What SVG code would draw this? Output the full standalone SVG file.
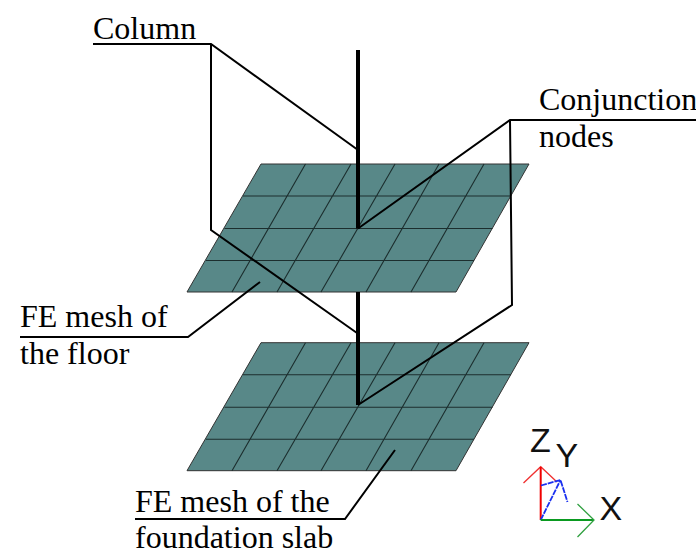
<svg xmlns="http://www.w3.org/2000/svg" width="696" height="550" viewBox="0 0 696 550">
<style>
.bg{fill:#fff}
.plate{fill:#588888;stroke:#333;stroke-width:1}
.grid{fill:none;stroke:#1c2e2e;stroke-width:1.1}
.col{fill:none;stroke:#000;stroke-width:4}
.lead{fill:none;stroke:#000;stroke-width:2}
.t{font-family:"Liberation Serif","Times New Roman",serif;font-size:32px;fill:#000}
.a{font-family:"Liberation Sans",Arial,sans-serif;font-size:34px;fill:#111}
.ax{fill:none;stroke-width:1.3}
</style>
<defs>
<g id="mesh">
<polygon class="plate" points="261,0 529,0 456,128 187,128"/>
<path class="grid" d="M243,32H511M224.500,64.500H492.500M206,96.500H474M232,128L305.500,0M277,128L351,0M321,128L395,0M366,128L439,0M411,128L484,0"/>
</g>
</defs>
<rect class="bg" width="696" height="550"/>
<g id="floor-mesh"><use href="#mesh" y="164"/></g>
<g id="foundation-mesh"><use href="#mesh" y="342.700"/></g>
<g id="connectors">
<path class="col" d="M358,50V228.500M358,292V405"/>
<path class="lead" d="M93,44H211L358,150M211,44L211,230L357,333"/>
<path class="lead" d="M696,120H510L358,228.500M510,120L512,305L358,405"/>
<path class="lead" d="M20,337H188L260,282"/>
<path class="lead" d="M135,519H345L395,450"/>
</g>
<g id="label-column"><text class="t" x="93" y="39">Column</text></g>
<g id="label-conjunction"><text class="t" x="539" y="110">Conjunction</text><text class="t" x="539" y="147">nodes</text></g>
<g id="label-floor"><text class="t" x="20" y="327">FE mesh of</text><text class="t" x="20" y="364">the floor</text></g>
<g id="label-foundation"><text class="t" x="135" y="512">FE mesh of the</text><text class="t" x="135" y="548">foundation slab</text></g>
<g id="axes">
<path class="ax" stroke="#f03030" d="M523.500,483L540.700,466.700L557,482"/>
<path fill="none" stroke="#f00000" stroke-width="2" d="M540.700,520V467"/>
<path fill="none" stroke="#1a30f0" stroke-width="1.800" stroke-dasharray="6 1" d="M540.700,520L560.500,480M541,485.500L560.500,480L567.500,502"/>
<path fill="none" stroke="#0a9a20" stroke-width="2" d="M540.700,520H594"/>
<path class="ax" stroke="#30a040" d="M577.500,504L594,520L577.500,537"/>
<text class="a" x="530" y="452">Z</text><text class="a" x="555.500" y="467">Y</text><text class="a" x="599.500" y="520">X</text>
</g>
</svg>
